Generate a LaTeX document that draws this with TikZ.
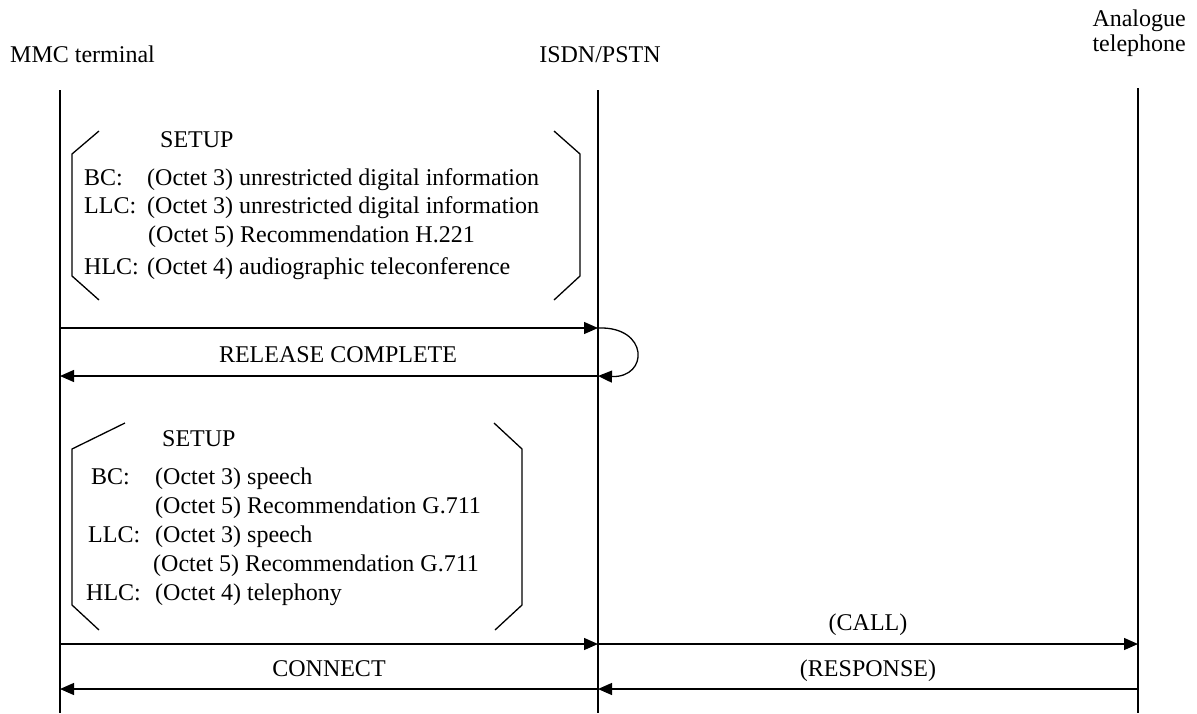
\documentclass[tikz,border=0pt]{standalone}
\usepackage{fontspec}
\setmainfont{Liberation Serif}
\usetikzlibrary{arrows.meta}
\begin{document}
\begin{tikzpicture}[x=1pt,y=-1pt,
  lbl/.style={font=\fontsize{24}{28}\selectfont,inner sep=0pt},
  lifeline/.style={line width=1.1pt},
  msg/.style={line width=1.3pt,-{Triangle[length=14pt,width=12pt]}},
  brk/.style={line width=1.3pt}]
\useasboundingbox (0,0) rectangle (1197,713);
% headers
\node[lbl,anchor=base west] (hA) at (10,62) {MMC terminal};
\node[lbl,anchor=base] (hB) at (600,62) {ISDN/PSTN};
\node[lbl,anchor=base east] (hC1) at (1186,26) {Analogue};
\node[lbl,anchor=base east] (hC) at (1186,51) {telephone};
% lifelines
\coordinate (A0) at (60,90);  \coordinate (A1) at (60,713);
\coordinate (B0) at (598,90); \coordinate (B1) at (598,713);
\coordinate (C0) at (1138,88); \coordinate (C1) at (1138,713);
\draw[lifeline] (A0) -- (A1);
\draw[lifeline] (B0) -- (B1);
\draw[lifeline] (C0) -- (C1);
% first SETUP bracket
\draw[brk] (99,131) -- (72,154) -- (72,276) -- (99,300);
\draw[brk] (554,131) -- (580,154) -- (580,276) -- (554,300);
\node[lbl,anchor=base west] (s1) at (160,147) {SETUP};
\node[lbl,anchor=base west] (s1a) at (84,185) {BC:};
\node[lbl,anchor=base west] (s1b) at (147,185) {(Octet 3) unrestricted digital information};
\node[lbl,anchor=base west] (s1c) at (84,213) {LLC:};
\node[lbl,anchor=base west] (s1d) at (147,213) {(Octet 3) unrestricted digital information};
\node[lbl,anchor=base west] (s1e) at (148,242) {(Octet 5) Recommendation H.221};
\node[lbl,anchor=base west] (s1f) at (84,274) {HLC:};
\node[lbl,anchor=base west] (s1g) at (147,274) {(Octet 4) audiographic teleconference};
% messages
\coordinate (m1a) at (60,328);  \coordinate (m1b) at (598,328);
\coordinate (m2a) at (598,376); \coordinate (m2b) at (60,376);
\draw[msg] (m1a) -- (m1b);
\draw[line width=1.3pt,-{Triangle[length=14pt,width=12pt]}] (m1b) .. controls (649,326) and (649,378) .. (m2a);
\draw[msg] (m2a) -- (m2b);
\node[lbl,anchor=base] (rc) at (338,362) {RELEASE COMPLETE};
% second SETUP bracket
\draw[brk] (125,423) -- (72,449) -- (72,605) -- (99,630);
\draw[brk] (494,423) -- (522,449) -- (522,605) -- (495,630);
\node[lbl,anchor=base west] (s2) at (162,446) {SETUP};
\node[lbl,anchor=base west] (s2a) at (91,484) {BC:};
\node[lbl,anchor=base west] (s2b) at (155,484) {(Octet 3) speech};
\node[lbl,anchor=base west] (s2c) at (155,513) {(Octet 5) Recommendation G.711};
\node[lbl,anchor=base west] (s2d) at (88,542) {LLC:};
\node[lbl,anchor=base west] (s2e) at (155,542) {(Octet 3) speech};
\node[lbl,anchor=base west] (s2f) at (153,571) {(Octet 5) Recommendation G.711};
\node[lbl,anchor=base west] (s2g) at (86,600) {HLC:};
\node[lbl,anchor=base west] (s2h) at (155,600) {(Octet 4) telephony};
% bottom messages
\coordinate (m3a) at (60,644);  \coordinate (m3b) at (598,644);
\coordinate (m4a) at (598,644); \coordinate (m4b) at (1138,644);
\coordinate (m5a) at (1138,689); \coordinate (m5b) at (598,689);
\coordinate (m6a) at (598,689); \coordinate (m6b) at (60,689);
\draw[msg] (m3a) -- (m3b);
\draw[msg] (m4a) -- (m4b);
\draw[msg] (m5a) -- (m5b);
\draw[msg] (m6a) -- (m6b);
\node[lbl,anchor=base] (call) at (868,630) {(CALL)};
\node[lbl,anchor=base] (conn) at (329,676) {CONNECT};
\node[lbl,anchor=base] (resp) at (868,676) {(RESPONSE)};
\end{tikzpicture}
\end{document}
